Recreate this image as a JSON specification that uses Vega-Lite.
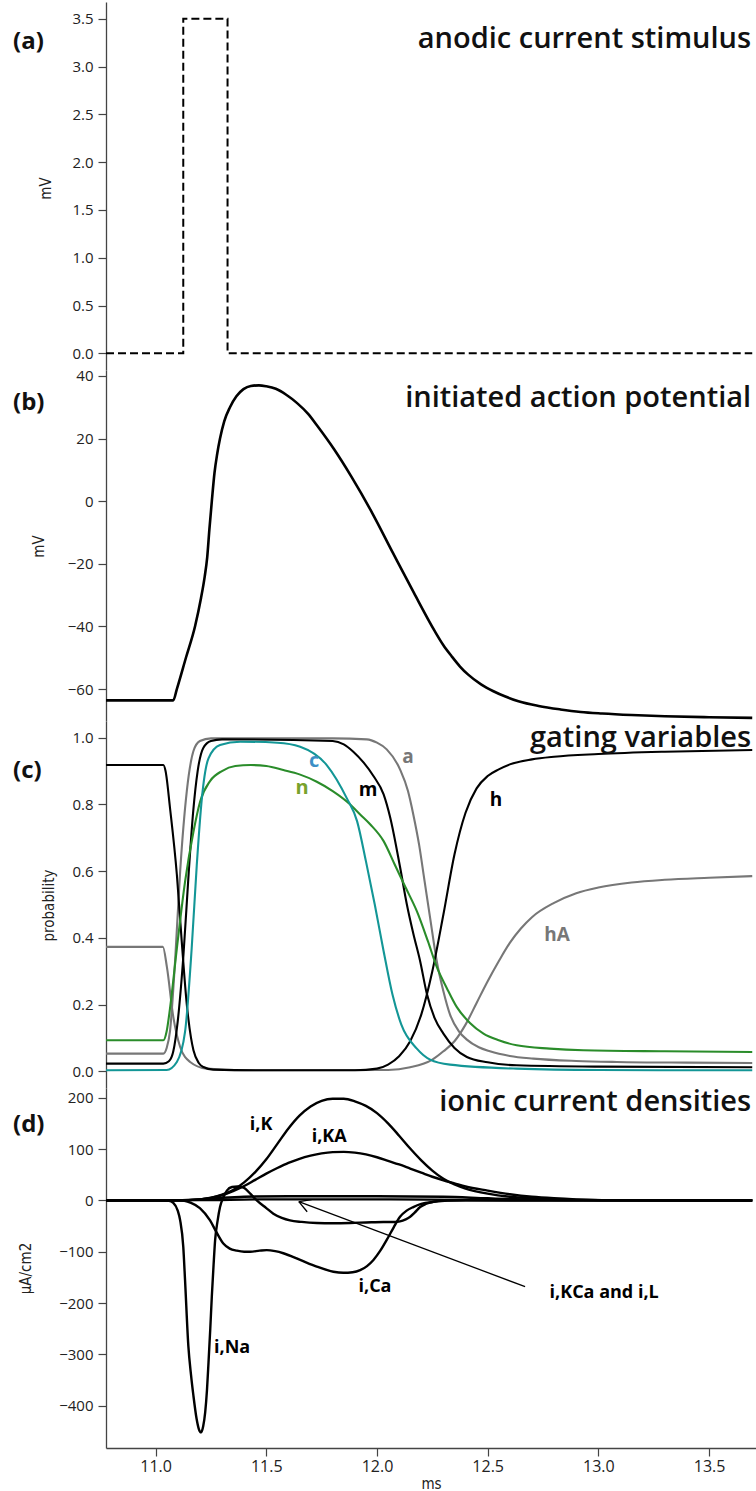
{
  "$schema": "https://vega.github.io/schema/vega-lite/v6.json",
  "padding": {"left": 13, "top": 2, "right": 0, "bottom": 0},
  "spacing": 0,
  "bounds": "flush",
  "config": {
    "view": {"stroke": null},
    "font": "Open Sans",
    "axis": {
      "grid": false,
      "domainColor": "#444",
      "tickColor": "#444",
      "domainWidth": 1.3,
      "tickWidth": 1.2,
      "tickSize": 8,
      "labelFont": "Open Sans",
      "labelFontSize": 15,
      "labelColor": "#222",
      "labelPadding": 5,
      "labelOverlap": false,
      "labelFlush": false,
      "titleFont": "Liberation Sans Narrow, DejaVu Sans Condensed, Open Sans",
      "titleFontSize": 15,
      "titleFontWeight": "normal",
      "titleColor": "#222"
    }
  },
  "vconcat": [
    {
      "width": 650,
      "height": 368,
      "encoding": {
        "x": {"field": "t", "type": "quantitative", "scale": {"domain": [10.776, 13.712], "nice": false, "zero": false}, "axis": null},
        "y": {"field": "v", "type": "quantitative", "scale": {"domain": [-0.174, 3.675], "nice": false, "zero": false},
          "axis": {"values": [0, 0.5, 1, 1.5, 2, 2.5, 3, 3.5], "format": ".1f", "title": "mV", "titleX": -61, "titleY": 186, "titleAngle": -90, "titleAlign": "center", "titleBaseline": "middle"}}
      },
      "layer": [
        {
          "data": {"values": [
            {"t": 10.776, "v": 0}, {"t": 11.125, "v": 0}, {"t": 11.125, "v": 3.5},
            {"t": 11.325, "v": 3.5}, {"t": 11.325, "v": 0}, {"t": 13.695, "v": 0}
          ]},
          "mark": {"type": "line", "color": "black", "strokeWidth": 2, "strokeDash": [8, 4]}
        },
        {
          "data": {"values": [{"t": 13.69, "v": 3.194, "label": "anodic current stimulus"}]},
          "mark": {"type": "text", "align": "right", "baseline": "alphabetic", "fontSize": 29, "fontWeight": 600, "color": "#111"},
          "encoding": {"text": {"field": "label"}}
        },
        {
          "data": {"values": [{"t": 10.356, "v": 3.257, "label": "(a)"}]},
          "mark": {"type": "text", "align": "left", "baseline": "middle", "fontSize": 24, "fontWeight": "bold", "color": "#111"},
          "encoding": {"text": {"field": "label"}}
        }
      ]
    },
    {
      "width": 650,
      "height": 351,
      "encoding": {
        "x": {"field": "t", "type": "quantitative", "scale": {"domain": [10.776, 13.712], "nice": false, "zero": false}, "axis": null},
        "y": {"field": "v", "type": "quantitative", "scale": {"domain": [-70.2, 41.9], "nice": false, "zero": false},
          "axis": {"values": [-60, -40, -20, 0, 20, 40], "title": "mV", "titleX": -68, "titleY": 176, "titleAngle": -90, "titleAlign": "center", "titleBaseline": "middle"}}
      },
      "layer": [
        {
          "data": {"values": [
            {"t": 10.776, "v": -63.6}, {"t": 11.08, "v": -63.6}, {"t": 11.096, "v": -60}, {"t": 11.137, "v": -50},
            {"t": 11.178, "v": -40}, {"t": 11.205, "v": -31}, {"t": 11.222, "v": -24}, {"t": 11.233, "v": -18},
            {"t": 11.243, "v": -9}, {"t": 11.254, "v": 0}, {"t": 11.266, "v": 9}, {"t": 11.278, "v": 15},
            {"t": 11.291, "v": 20}, {"t": 11.31, "v": 25.5}, {"t": 11.336, "v": 30}, {"t": 11.365, "v": 33.5},
            {"t": 11.397, "v": 35.8}, {"t": 11.43, "v": 36.8}, {"t": 11.467, "v": 37.0}, {"t": 11.5, "v": 36.7},
            {"t": 11.543, "v": 35.9}, {"t": 11.59, "v": 34}, {"t": 11.638, "v": 31.4}, {"t": 11.69, "v": 27.8},
            {"t": 11.731, "v": 24.0}, {"t": 11.807, "v": 16.5}, {"t": 11.883, "v": 8.0}, {"t": 11.978, "v": -3.7},
            {"t": 12.072, "v": -16.5}, {"t": 12.167, "v": -29.3}, {"t": 12.261, "v": -41.5}, {"t": 12.3, "v": -46},
            {"t": 12.337, "v": -49.5}, {"t": 12.375, "v": -52.8}, {"t": 12.412, "v": -55.4}, {"t": 12.47, "v": -58.5},
            {"t": 12.526, "v": -60.7}, {"t": 12.58, "v": -62.4}, {"t": 12.639, "v": -63.9}, {"t": 12.73, "v": -65.4},
            {"t": 12.828, "v": -66.5}, {"t": 12.92, "v": -67.3}, {"t": 13.017, "v": -67.8}, {"t": 13.15, "v": -68.3},
            {"t": 13.3, "v": -68.7}, {"t": 13.5, "v": -69.0}, {"t": 13.695, "v": -69.2}
          ]},
          "mark": {"type": "line", "color": "black", "strokeWidth": 2.6, "interpolate": "monotone"}
        },
        {
          "data": {"values": [{"t": 13.69, "v": 30.18, "label": "initiated action potential"}]},
          "mark": {"type": "text", "align": "right", "baseline": "alphabetic", "fontSize": 29, "fontWeight": 600, "color": "#111"},
          "encoding": {"text": {"field": "label"}}
        },
        {
          "data": {"values": [{"t": 10.356, "v": 31.36, "label": "(b)"}]},
          "mark": {"type": "text", "align": "left", "baseline": "middle", "fontSize": 24, "fontWeight": "bold", "color": "#111"},
          "encoding": {"text": {"field": "label"}}
        }
      ]
    },
    {
      "width": 650,
      "height": 367,
      "encoding": {
        "x": {"field": "t", "type": "quantitative", "scale": {"domain": [10.776, 13.712], "nice": false, "zero": false}, "axis": null},
        "y": {"field": "v", "type": "quantitative", "scale": {"domain": [-0.05, 1.05], "nice": false, "zero": false},
          "axis": {"values": [0, 0.2, 0.4, 0.6, 0.8, 1.0], "format": ".1f", "title": "probability", "titleX": -58, "titleY": 184, "titleAngle": -90, "titleAlign": "center", "titleBaseline": "middle"}}
      },
      "layer": [
        {
          "data": {"values": [
            {"s": "hA", "t": 10.776, "v": 0.373}, {"s": "hA", "t": 11.033, "v": 0.373}, {"s": "hA", "t": 11.051, "v": 0.313},
            {"s": "hA", "t": 11.08, "v": 0.163}, {"s": "hA", "t": 11.111, "v": 0.073}, {"s": "hA", "t": 11.156, "v": 0.028},
            {"s": "hA", "t": 11.231, "v": 0.008}, {"s": "hA", "t": 11.4, "v": 0.003}, {"s": "hA", "t": 12.05, "v": 0.004},
            {"s": "hA", "t": 12.15, "v": 0.012}, {"s": "hA", "t": 12.25, "v": 0.035}, {"s": "hA", "t": 12.3, "v": 0.06},
            {"s": "hA", "t": 12.35, "v": 0.09}, {"s": "hA", "t": 12.4, "v": 0.14}, {"s": "hA", "t": 12.45, "v": 0.205},
            {"s": "hA", "t": 12.5, "v": 0.27}, {"s": "hA", "t": 12.55, "v": 0.33}, {"s": "hA", "t": 12.6, "v": 0.385},
            {"s": "hA", "t": 12.65, "v": 0.428}, {"s": "hA", "t": 12.7, "v": 0.462}, {"s": "hA", "t": 12.8, "v": 0.505},
            {"s": "hA", "t": 12.9, "v": 0.534}, {"s": "hA", "t": 13.0, "v": 0.551}, {"s": "hA", "t": 13.15, "v": 0.566},
            {"s": "hA", "t": 13.3, "v": 0.574}, {"s": "hA", "t": 13.5, "v": 0.58}, {"s": "hA", "t": 13.695, "v": 0.585},

            {"s": "a", "t": 10.776, "v": 0.053}, {"s": "a", "t": 11.035, "v": 0.053}, {"s": "a", "t": 11.05, "v": 0.07},
            {"s": "a", "t": 11.065, "v": 0.12}, {"s": "a", "t": 11.088, "v": 0.33}, {"s": "a", "t": 11.111, "v": 0.6},
            {"s": "a", "t": 11.141, "v": 0.84}, {"s": "a", "t": 11.171, "v": 0.96}, {"s": "a", "t": 11.2, "v": 0.99},
            {"s": "a", "t": 11.25, "v": 0.998}, {"s": "a", "t": 11.8, "v": 0.998}, {"s": "a", "t": 11.954, "v": 0.995},
            {"s": "a", "t": 12.0, "v": 0.985}, {"s": "a", "t": 12.044, "v": 0.965}, {"s": "a", "t": 12.104, "v": 0.905},
            {"s": "a", "t": 12.14, "v": 0.84}, {"s": "a", "t": 12.164, "v": 0.77}, {"s": "a", "t": 12.19, "v": 0.68},
            {"s": "a", "t": 12.215, "v": 0.57}, {"s": "a", "t": 12.24, "v": 0.46}, {"s": "a", "t": 12.27, "v": 0.33},
            {"s": "a", "t": 12.3, "v": 0.24}, {"s": "a", "t": 12.33, "v": 0.17}, {"s": "a", "t": 12.37, "v": 0.12},
            {"s": "a", "t": 12.406, "v": 0.095}, {"s": "a", "t": 12.46, "v": 0.072}, {"s": "a", "t": 12.51, "v": 0.06},
            {"s": "a", "t": 12.6, "v": 0.046}, {"s": "a", "t": 12.706, "v": 0.038}, {"s": "a", "t": 12.9, "v": 0.031},
            {"s": "a", "t": 13.083, "v": 0.028}, {"s": "a", "t": 13.4, "v": 0.026}, {"s": "a", "t": 13.695, "v": 0.025},

            {"s": "h", "t": 10.776, "v": 0.918}, {"s": "h", "t": 11.035, "v": 0.918}, {"s": "h", "t": 11.045, "v": 0.9},
            {"s": "h", "t": 11.065, "v": 0.79}, {"s": "h", "t": 11.096, "v": 0.59}, {"s": "h", "t": 11.118, "v": 0.39},
            {"s": "h", "t": 11.141, "v": 0.2}, {"s": "h", "t": 11.16, "v": 0.1}, {"s": "h", "t": 11.171, "v": 0.063},
            {"s": "h", "t": 11.195, "v": 0.025}, {"s": "h", "t": 11.216, "v": 0.013}, {"s": "h", "t": 11.26, "v": 0.005},
            {"s": "h", "t": 11.5, "v": 0.003}, {"s": "h", "t": 11.9, "v": 0.003}, {"s": "h", "t": 12.0, "v": 0.008},
            {"s": "h", "t": 12.05, "v": 0.02}, {"s": "h", "t": 12.1, "v": 0.045}, {"s": "h", "t": 12.15, "v": 0.09},
            {"s": "h", "t": 12.2, "v": 0.17}, {"s": "h", "t": 12.25, "v": 0.3}, {"s": "h", "t": 12.3, "v": 0.47},
            {"s": "h", "t": 12.35, "v": 0.65}, {"s": "h", "t": 12.4, "v": 0.775}, {"s": "h", "t": 12.45, "v": 0.848},
            {"s": "h", "t": 12.5, "v": 0.885}, {"s": "h", "t": 12.55, "v": 0.905}, {"s": "h", "t": 12.6, "v": 0.92},
            {"s": "h", "t": 12.7, "v": 0.935}, {"s": "h", "t": 12.8, "v": 0.943}, {"s": "h", "t": 13.0, "v": 0.951},
            {"s": "h", "t": 13.3, "v": 0.958}, {"s": "h", "t": 13.695, "v": 0.963},

            {"s": "m", "t": 10.776, "v": 0.023}, {"s": "m", "t": 11.035, "v": 0.023}, {"s": "m", "t": 11.06, "v": 0.03},
            {"s": "m", "t": 11.08, "v": 0.06}, {"s": "m", "t": 11.1, "v": 0.15}, {"s": "m", "t": 11.126, "v": 0.35},
            {"s": "m", "t": 11.15, "v": 0.6}, {"s": "m", "t": 11.17, "v": 0.78}, {"s": "m", "t": 11.19, "v": 0.9},
            {"s": "m", "t": 11.216, "v": 0.97}, {"s": "m", "t": 11.25, "v": 0.99}, {"s": "m", "t": 11.3, "v": 0.995},
            {"s": "m", "t": 11.8, "v": 0.99}, {"s": "m", "t": 11.85, "v": 0.98}, {"s": "m", "t": 11.893, "v": 0.958},
            {"s": "m", "t": 11.94, "v": 0.925}, {"s": "m", "t": 11.984, "v": 0.885}, {"s": "m", "t": 12.03, "v": 0.83},
            {"s": "m", "t": 12.06, "v": 0.76}, {"s": "m", "t": 12.104, "v": 0.613}, {"s": "m", "t": 12.135, "v": 0.5},
            {"s": "m", "t": 12.164, "v": 0.413}, {"s": "m", "t": 12.195, "v": 0.33}, {"s": "m", "t": 12.225, "v": 0.233},
            {"s": "m", "t": 12.26, "v": 0.16}, {"s": "m", "t": 12.3, "v": 0.113}, {"s": "m", "t": 12.35, "v": 0.07},
            {"s": "m", "t": 12.406, "v": 0.043}, {"s": "m", "t": 12.5, "v": 0.027}, {"s": "m", "t": 12.63, "v": 0.018},
            {"s": "m", "t": 13.0, "v": 0.014}, {"s": "m", "t": 13.695, "v": 0.012},

            {"s": "n", "t": 10.776, "v": 0.093}, {"s": "n", "t": 11.035, "v": 0.093}, {"s": "n", "t": 11.05, "v": 0.12},
            {"s": "n", "t": 11.065, "v": 0.188}, {"s": "n", "t": 11.096, "v": 0.368}, {"s": "n", "t": 11.133, "v": 0.568},
            {"s": "n", "t": 11.171, "v": 0.718}, {"s": "n", "t": 11.201, "v": 0.808}, {"s": "n", "t": 11.246, "v": 0.87},
            {"s": "n", "t": 11.3, "v": 0.9}, {"s": "n", "t": 11.36, "v": 0.915}, {"s": "n", "t": 11.43, "v": 0.918},
            {"s": "n", "t": 11.5, "v": 0.915}, {"s": "n", "t": 11.577, "v": 0.903}, {"s": "n", "t": 11.65, "v": 0.89},
            {"s": "n", "t": 11.728, "v": 0.868}, {"s": "n", "t": 11.8, "v": 0.84}, {"s": "n", "t": 11.879, "v": 0.8},
            {"s": "n", "t": 11.924, "v": 0.77}, {"s": "n", "t": 11.97, "v": 0.74}, {"s": "n", "t": 12.03, "v": 0.69},
            {"s": "n", "t": 12.08, "v": 0.62}, {"s": "n", "t": 12.13, "v": 0.55}, {"s": "n", "t": 12.18, "v": 0.48},
            {"s": "n", "t": 12.23, "v": 0.39}, {"s": "n", "t": 12.27, "v": 0.313}, {"s": "n", "t": 12.315, "v": 0.25},
            {"s": "n", "t": 12.36, "v": 0.193}, {"s": "n", "t": 12.42, "v": 0.145}, {"s": "n", "t": 12.481, "v": 0.113},
            {"s": "n", "t": 12.55, "v": 0.093}, {"s": "n", "t": 12.631, "v": 0.078}, {"s": "n", "t": 12.78, "v": 0.068},
            {"s": "n", "t": 12.932, "v": 0.063}, {"s": "n", "t": 13.3, "v": 0.06}, {"s": "n", "t": 13.695, "v": 0.058},

            {"s": "c", "t": 10.776, "v": 0.003}, {"s": "c", "t": 11.05, "v": 0.004}, {"s": "c", "t": 11.096, "v": 0.028},
            {"s": "c", "t": 11.133, "v": 0.118}, {"s": "c", "t": 11.163, "v": 0.368}, {"s": "c", "t": 11.186, "v": 0.618},
            {"s": "c", "t": 11.209, "v": 0.818}, {"s": "c", "t": 11.239, "v": 0.938}, {"s": "c", "t": 11.291, "v": 0.978},
            {"s": "c", "t": 11.382, "v": 0.988}, {"s": "c", "t": 11.55, "v": 0.985}, {"s": "c", "t": 11.653, "v": 0.973},
            {"s": "c", "t": 11.773, "v": 0.918}, {"s": "c", "t": 11.864, "v": 0.818}, {"s": "c", "t": 11.91, "v": 0.75},
            {"s": "c", "t": 11.95, "v": 0.63}, {"s": "c", "t": 11.99, "v": 0.5}, {"s": "c", "t": 12.03, "v": 0.36},
            {"s": "c", "t": 12.07, "v": 0.23}, {"s": "c", "t": 12.11, "v": 0.14}, {"s": "c", "t": 12.18, "v": 0.068},
            {"s": "c", "t": 12.24, "v": 0.035}, {"s": "c", "t": 12.33, "v": 0.02}, {"s": "c", "t": 12.63, "v": 0.008},
            {"s": "c", "t": 13.0, "v": 0.004}, {"s": "c", "t": 13.695, "v": 0.003}
          ]},
          "mark": {"type": "line", "strokeWidth": 2.1, "interpolate": "monotone"},
          "encoding": {
            "color": {"field": "s", "type": "nominal", "legend": null,
              "scale": {"domain": ["hA", "a", "h", "m", "n", "c"], "range": ["#777777", "#777777", "#000000", "#000000", "#2a8c2a", "#139696"]}}
          }
        },
        {
          "data": {"values": [{"t": 11.96, "v": 0.843, "label": "m"}, {"t": 12.538, "v": 0.813, "label": "h"}]},
          "mark": {"type": "text", "align": "center", "baseline": "middle", "fontSize": 19, "fontWeight": "bold", "color": "#000"},
          "encoding": {"text": {"field": "label"}}
        },
        {
          "data": {"values": [{"t": 12.14, "v": 0.942, "label": "a"}, {"t": 12.813, "v": 0.409, "label": "hA"}]},
          "mark": {"type": "text", "align": "center", "baseline": "middle", "fontSize": 19, "fontWeight": "bold", "color": "#777777"},
          "encoding": {"text": {"field": "label"}}
        },
        {
          "data": {"values": [{"t": 11.716, "v": 0.93, "label": "c"}]},
          "mark": {"type": "text", "align": "center", "baseline": "middle", "fontSize": 20, "fontWeight": "bold", "color": "#3b8fc6"},
          "encoding": {"text": {"field": "label"}}
        },
        {
          "data": {"values": [{"t": 11.662, "v": 0.849, "label": "n"}]},
          "mark": {"type": "text", "align": "center", "baseline": "middle", "fontSize": 20, "fontWeight": "bold", "color": "#78a22c"},
          "encoding": {"text": {"field": "label"}}
        },
        {
          "data": {"values": [{"t": 13.69, "v": 0.973, "label": "gating variables"}]},
          "mark": {"type": "text", "align": "right", "baseline": "alphabetic", "fontSize": 29, "fontWeight": 600, "color": "#111"},
          "encoding": {"text": {"field": "label"}}
        },
        {
          "data": {"values": [{"t": 10.356, "v": 0.9, "label": "(c)"}]},
          "mark": {"type": "text", "align": "left", "baseline": "middle", "fontSize": 24, "fontWeight": "bold", "color": "#111"},
          "encoding": {"text": {"field": "label"}}
        }
      ]
    },
    {
      "width": 650,
      "height": 360,
      "encoding": {
        "x": {"field": "t", "type": "quantitative", "scale": {"domain": [10.776, 13.712], "nice": false, "zero": false},
          "axis": {"values": [11, 11.5, 12, 12.5, 13, 13.5], "format": ".1f", "title": "ms", "labelFontSize": 16, "labelPadding": 2, "titlePadding": 2}},
        "y": {"field": "v", "type": "quantitative", "scale": {"domain": [-482.4, 218.9], "nice": false, "zero": false},
          "axis": {"values": [-400, -300, -200, -100, 0, 100, 200], "title": "μA/cm2", "titleX": -81, "titleY": 180, "titleAngle": -90, "titleAlign": "center", "titleBaseline": "middle"}}
      },
      "layer": [
        {
          "data": {"values": [
            {"s": "iNa", "t": 10.776, "v": 0}, {"s": "iNa", "t": 11.0, "v": 0}, {"s": "iNa", "t": 11.06, "v": -1},
            {"s": "iNa", "t": 11.08, "v": -5}, {"s": "iNa", "t": 11.1, "v": -20}, {"s": "iNa", "t": 11.111, "v": -39},
            {"s": "iNa", "t": 11.125, "v": -90}, {"s": "iNa", "t": 11.133, "v": -155}, {"s": "iNa", "t": 11.148, "v": -284},
            {"s": "iNa", "t": 11.16, "v": -340}, {"s": "iNa", "t": 11.171, "v": -381}, {"s": "iNa", "t": 11.185, "v": -425},
            {"s": "iNa", "t": 11.195, "v": -445}, {"s": "iNa", "t": 11.205, "v": -452}, {"s": "iNa", "t": 11.215, "v": -440},
            {"s": "iNa", "t": 11.224, "v": -413}, {"s": "iNa", "t": 11.232, "v": -370}, {"s": "iNa", "t": 11.239, "v": -316},
            {"s": "iNa", "t": 11.247, "v": -250}, {"s": "iNa", "t": 11.254, "v": -187}, {"s": "iNa", "t": 11.262, "v": -125},
            {"s": "iNa", "t": 11.269, "v": -77}, {"s": "iNa", "t": 11.28, "v": -40}, {"s": "iNa", "t": 11.291, "v": -13},
            {"s": "iNa", "t": 11.305, "v": 5}, {"s": "iNa", "t": 11.322, "v": 19}, {"s": "iNa", "t": 11.345, "v": 26},
            {"s": "iNa", "t": 11.37, "v": 27}, {"s": "iNa", "t": 11.397, "v": 25}, {"s": "iNa", "t": 11.43, "v": 12},
            {"s": "iNa", "t": 11.457, "v": 0}, {"s": "iNa", "t": 11.5, "v": -15}, {"s": "iNa", "t": 11.532, "v": -26},
            {"s": "iNa", "t": 11.57, "v": -34}, {"s": "iNa", "t": 11.607, "v": -39}, {"s": "iNa", "t": 11.66, "v": -42},
            {"s": "iNa", "t": 11.728, "v": -44}, {"s": "iNa", "t": 11.8, "v": -44.5}, {"s": "iNa", "t": 11.879, "v": -44},
            {"s": "iNa", "t": 11.95, "v": -43}, {"s": "iNa", "t": 12.029, "v": -42}, {"s": "iNa", "t": 12.08, "v": -42},
            {"s": "iNa", "t": 12.104, "v": -41}, {"s": "iNa", "t": 12.13, "v": -37}, {"s": "iNa", "t": 12.15, "v": -32},
            {"s": "iNa", "t": 12.17, "v": -24}, {"s": "iNa", "t": 12.195, "v": -13}, {"s": "iNa", "t": 12.22, "v": -7},
            {"s": "iNa", "t": 12.255, "v": -2.6}, {"s": "iNa", "t": 12.3, "v": -0.5}, {"s": "iNa", "t": 12.4, "v": 0},
            {"s": "iNa", "t": 13.695, "v": 0},

            {"s": "iCa", "t": 10.776, "v": 0}, {"s": "iCa", "t": 11.1, "v": 0}, {"s": "iCa", "t": 11.13, "v": -1},
            {"s": "iCa", "t": 11.16, "v": -5}, {"s": "iCa", "t": 11.2, "v": -15}, {"s": "iCa", "t": 11.246, "v": -39},
            {"s": "iCa", "t": 11.275, "v": -62}, {"s": "iCa", "t": 11.306, "v": -84}, {"s": "iCa", "t": 11.335, "v": -94},
            {"s": "iCa", "t": 11.367, "v": -98}, {"s": "iCa", "t": 11.4, "v": -100}, {"s": "iCa", "t": 11.427, "v": -100},
            {"s": "iCa", "t": 11.47, "v": -98}, {"s": "iCa", "t": 11.502, "v": -97}, {"s": "iCa", "t": 11.54, "v": -99},
            {"s": "iCa", "t": 11.577, "v": -103}, {"s": "iCa", "t": 11.653, "v": -116}, {"s": "iCa", "t": 11.728, "v": -129},
            {"s": "iCa", "t": 11.803, "v": -139}, {"s": "iCa", "t": 11.848, "v": -141}, {"s": "iCa", "t": 11.89, "v": -140},
            {"s": "iCa", "t": 11.924, "v": -136}, {"s": "iCa", "t": 11.955, "v": -128}, {"s": "iCa", "t": 11.984, "v": -116},
            {"s": "iCa", "t": 12.015, "v": -98}, {"s": "iCa", "t": 12.044, "v": -77}, {"s": "iCa", "t": 12.075, "v": -53},
            {"s": "iCa", "t": 12.104, "v": -32}, {"s": "iCa", "t": 12.134, "v": -20}, {"s": "iCa", "t": 12.164, "v": -13},
            {"s": "iCa", "t": 12.2, "v": -7}, {"s": "iCa", "t": 12.255, "v": -3}, {"s": "iCa", "t": 12.32, "v": -0.5},
            {"s": "iCa", "t": 12.4, "v": 0}, {"s": "iCa", "t": 13.695, "v": 0},

            {"s": "iK", "t": 10.776, "v": 0}, {"s": "iK", "t": 11.1, "v": 0}, {"s": "iK", "t": 11.2, "v": 2},
            {"s": "iK", "t": 11.25, "v": 5}, {"s": "iK", "t": 11.3, "v": 11}, {"s": "iK", "t": 11.35, "v": 20},
            {"s": "iK", "t": 11.4, "v": 35}, {"s": "iK", "t": 11.45, "v": 55}, {"s": "iK", "t": 11.5, "v": 80},
            {"s": "iK", "t": 11.55, "v": 110}, {"s": "iK", "t": 11.6, "v": 140}, {"s": "iK", "t": 11.65, "v": 165},
            {"s": "iK", "t": 11.7, "v": 183}, {"s": "iK", "t": 11.75, "v": 194}, {"s": "iK", "t": 11.8, "v": 198},
            {"s": "iK", "t": 11.85, "v": 198}, {"s": "iK", "t": 11.9, "v": 193}, {"s": "iK", "t": 11.95, "v": 184},
            {"s": "iK", "t": 12.0, "v": 170}, {"s": "iK", "t": 12.05, "v": 150}, {"s": "iK", "t": 12.1, "v": 126},
            {"s": "iK", "t": 12.15, "v": 101}, {"s": "iK", "t": 12.2, "v": 78}, {"s": "iK", "t": 12.25, "v": 58},
            {"s": "iK", "t": 12.3, "v": 42}, {"s": "iK", "t": 12.35, "v": 31}, {"s": "iK", "t": 12.4, "v": 23},
            {"s": "iK", "t": 12.5, "v": 13}, {"s": "iK", "t": 12.6, "v": 7}, {"s": "iK", "t": 12.7, "v": 4},
            {"s": "iK", "t": 12.85, "v": 1.5}, {"s": "iK", "t": 13.0, "v": 0.5}, {"s": "iK", "t": 13.695, "v": 0},

            {"s": "iKA", "t": 10.776, "v": 0}, {"s": "iKA", "t": 11.1, "v": 0}, {"s": "iKA", "t": 11.2, "v": 2},
            {"s": "iKA", "t": 11.25, "v": 5}, {"s": "iKA", "t": 11.3, "v": 10}, {"s": "iKA", "t": 11.35, "v": 18},
            {"s": "iKA", "t": 11.4, "v": 28}, {"s": "iKA", "t": 11.45, "v": 40}, {"s": "iKA", "t": 11.5, "v": 52},
            {"s": "iKA", "t": 11.55, "v": 63}, {"s": "iKA", "t": 11.6, "v": 73}, {"s": "iKA", "t": 11.65, "v": 81},
            {"s": "iKA", "t": 11.7, "v": 87}, {"s": "iKA", "t": 11.75, "v": 91.5}, {"s": "iKA", "t": 11.8, "v": 94},
            {"s": "iKA", "t": 11.85, "v": 94.5}, {"s": "iKA", "t": 11.9, "v": 93}, {"s": "iKA", "t": 11.95, "v": 89.5},
            {"s": "iKA", "t": 12.0, "v": 84}, {"s": "iKA", "t": 12.05, "v": 77}, {"s": "iKA", "t": 12.1, "v": 70},
            {"s": "iKA", "t": 12.15, "v": 62}, {"s": "iKA", "t": 12.2, "v": 54}, {"s": "iKA", "t": 12.25, "v": 46},
            {"s": "iKA", "t": 12.3, "v": 39}, {"s": "iKA", "t": 12.35, "v": 33}, {"s": "iKA", "t": 12.4, "v": 27},
            {"s": "iKA", "t": 12.5, "v": 19}, {"s": "iKA", "t": 12.6, "v": 12}, {"s": "iKA", "t": 12.7, "v": 7},
            {"s": "iKA", "t": 12.8, "v": 4}, {"s": "iKA", "t": 12.9, "v": 2}, {"s": "iKA", "t": 13.05, "v": 0.5},
            {"s": "iKA", "t": 13.695, "v": 0},

            {"s": "iKCa", "t": 10.776, "v": 0}, {"s": "iKCa", "t": 11.1, "v": 0.5}, {"s": "iKCa", "t": 11.2, "v": 2},
            {"s": "iKCa", "t": 11.3, "v": 5}, {"s": "iKCa", "t": 11.4, "v": 7}, {"s": "iKCa", "t": 11.6, "v": 8},
            {"s": "iKCa", "t": 12.0, "v": 8}, {"s": "iKCa", "t": 12.3, "v": 7}, {"s": "iKCa", "t": 12.5, "v": 4},
            {"s": "iKCa", "t": 12.7, "v": 1.5}, {"s": "iKCa", "t": 12.9, "v": 0.5}, {"s": "iKCa", "t": 13.695, "v": 0},

            {"s": "iL", "t": 10.776, "v": 0}, {"s": "iL", "t": 11.2, "v": 0.5}, {"s": "iL", "t": 11.5, "v": 2},
            {"s": "iL", "t": 12.0, "v": 2}, {"s": "iL", "t": 12.4, "v": 1}, {"s": "iL", "t": 12.7, "v": 0},
            {"s": "iL", "t": 13.695, "v": 0}
          ]},
          "mark": {"type": "line", "color": "black", "strokeWidth": 2.4, "interpolate": "monotone"},
          "encoding": {"detail": {"field": "s", "type": "nominal"}}
        },
        {
          "data": {"values": [
            {"t": 12.669, "v": -168.0, "t2": 11.647, "v2": -2.6},
            {"t": 11.6847, "v": -22.1, "t2": 11.647, "v2": -2.6},
            {"t": 11.705, "v": 1.5, "t2": 11.647, "v2": -2.6}
          ]},
          "mark": {"type": "rule", "color": "black", "strokeWidth": 1.3},
          "encoding": {"x2": {"field": "t2"}, "y2": {"field": "v2"}}
        },
        {
          "data": {"values": [
            {"t": 11.4765, "v": 146.8, "label": "i,K"},
            {"t": 11.784, "v": 123.4, "label": "i,KA"},
            {"t": 11.991, "v": -168.8, "label": "i,Ca"},
            {"t": 11.3455, "v": -287.6, "label": "i,Na"},
            {"t": 13.026, "v": -180.5, "label": "i,KCa and i,L"}
          ]},
          "mark": {"type": "text", "align": "center", "baseline": "middle", "fontSize": 18, "fontWeight": "bold", "color": "#000"},
          "encoding": {"text": {"field": "label"}}
        },
        {
          "data": {"values": [{"t": 13.69, "v": 174.7, "label": "ionic current densities"}]},
          "mark": {"type": "text", "align": "right", "baseline": "alphabetic", "fontSize": 29, "fontWeight": 600, "color": "#111"},
          "encoding": {"text": {"field": "label"}}
        },
        {
          "data": {"values": [{"t": 10.356, "v": 146.8, "label": "(d)"}]},
          "mark": {"type": "text", "align": "left", "baseline": "middle", "fontSize": 24, "fontWeight": "bold", "color": "#111"},
          "encoding": {"text": {"field": "label"}}
        }
      ]
    }
  ]
}
